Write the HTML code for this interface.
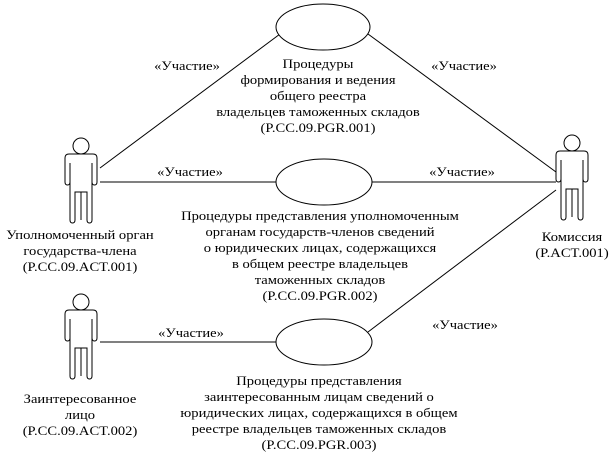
<!DOCTYPE html>
<html><head><meta charset="utf-8"><style>
html,body{margin:0;padding:0;background:#fff}
svg{display:block;position:absolute;left:0;top:0}
.t{position:absolute;font-family:"Liberation Serif","Times New Roman",serif;font-size:13px;line-height:16px;color:#000;text-align:center;white-space:nowrap;transform:translateX(-50%) scaleX(1.12)}
</style></head><body>
<svg width="612" height="464" viewBox="0 0 612 464">
<defs>
<path id="actor" fill="#fff" stroke="#000" stroke-width="1" d="M-12,18 H12 Q16,18 16,22 V46 Q16,49 13.5,49 Q11,49 11,46 V27 V84 Q11,87 8.5,87 Q6,87 6,84 V56 H-6 V84 Q-6,87 -8.5,87 Q-11,87 -11,84 V27 V46 Q-11,49 -13.5,49 Q-16,49 -16,46 V22 Q-16,18 -12,18 Z M0,56 V84"/>
</defs>
<g stroke="#000" stroke-width="1" fill="none">
<line x1="100" y1="168" x2="280" y2="34"/>
<line x1="100" y1="182" x2="276" y2="182"/>
<line x1="100" y1="342" x2="276" y2="342"/>
<line x1="368" y1="34" x2="556" y2="172"/>
<line x1="372" y1="182" x2="556" y2="182"/>
<line x1="368" y1="332" x2="556" y2="190"/>
<ellipse cx="323" cy="27" rx="47" ry="23" fill="#fff"/>
<ellipse cx="324" cy="182" rx="48" ry="23" fill="#fff"/>
<ellipse cx="324" cy="342" rx="48" ry="23" fill="#fff"/>
</g>
<g stroke="#000" fill="#fff"><circle cx="81" cy="146" r="8"/><circle cx="572" cy="143" r="8"/><circle cx="81" cy="302" r="8"/></g>
<use href="#actor" x="81" y="136"/>
<use href="#actor" x="572" y="133"/>
<use href="#actor" x="81" y="292"/>
</svg>
<div class="t" style="left:187px;top:58px">«Участие»</div>
<div class="t" style="left:464px;top:58px">«Участие»</div>
<div class="t" style="left:190px;top:164px">«Участие»</div>
<div class="t" style="left:462px;top:164px">«Участие»</div>
<div class="t" style="left:191px;top:325px">«Участие»</div>
<div class="t" style="left:465px;top:317px">«Участие»</div>
<div class="t" style="left:318px;top:56px">Процедуры<br>формирования и ведения<br>общего реестра<br>владельцев таможенных складов<br>(P.CC.09.PGR.001)</div>
<div class="t" style="left:320px;top:208px">Процедуры представления уполномоченным<br>органам государств-членов сведений<br>о юридических лицах, содержащихся<br>в общем реестре владельцев<br>таможенных складов<br>(P.CC.09.PGR.002)</div>
<div class="t" style="left:319px;top:373px">Процедуры представления<br>заинтересованным лицам сведений о<br>юридических лицах, содержащихся в общем<br>реестре владельцев таможенных складов<br>(P.CC.09.PGR.003)</div>
<div class="t" style="left:80px;top:227px">Уполномоченный орган<br>государства-члена<br>(P.CC.09.ACT.001)</div>
<div class="t" style="left:572px;top:229px">Комиссия<br>(P.ACT.001)</div>
<div class="t" style="left:80px;top:391px">Заинтересованное<br>лицо<br>(P.CC.09.ACT.002)</div>
</body></html>
